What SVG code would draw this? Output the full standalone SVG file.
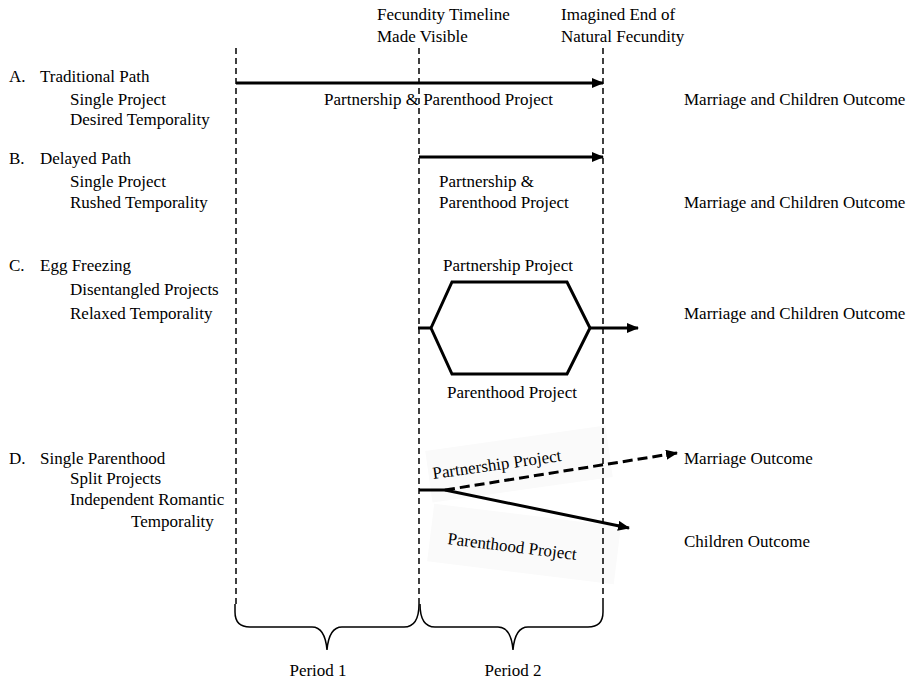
<svg xmlns="http://www.w3.org/2000/svg" width="909" height="685" viewBox="0 0 909 685">
<style>
text{font-family:"Liberation Serif","Times New Roman",serif;font-size:17px;fill:#000}
.vl{stroke:#000;stroke-width:1.5;stroke-dasharray:6,4;fill:none}
.th{stroke:#000;stroke-width:3;fill:none}
.br{stroke:#000;stroke-width:1.5;fill:none}
.mid{text-anchor:middle}
.bg{fill:#fafafa}
</style>
<defs>
<marker id="ah" markerWidth="12" markerHeight="10" refX="11" refY="5" orient="auto" markerUnits="userSpaceOnUse">
<path d="M0,0 L12,5 L0,10 Z" fill="#000"/>
</marker>
</defs>
<rect width="909" height="685" fill="#fff"/>
<g id="headers">
<text x="377" y="20">Fecundity Timeline</text>
<text x="377" y="42">Made Visible</text>
<text x="561" y="20">Imagined End of</text>
<text x="561" y="42">Natural Fecundity</text>
</g>
<g id="labels">
<text x="9" y="82">A.</text><text x="40" y="82">Traditional Path</text>
<text x="70" y="105">Single Project</text>
<text x="70" y="125">Desired Temporality</text>
<text x="9" y="164">B.</text><text x="40" y="164">Delayed Path</text>
<text x="70" y="187">Single Project</text>
<text x="70" y="208">Rushed Temporality</text>
<text x="9" y="271">C.</text><text x="40" y="271">Egg Freezing</text>
<text x="70" y="295">Disentangled Projects</text>
<text x="70" y="319">Relaxed Temporality</text>
<text x="9" y="464">D.</text><text x="40" y="464">Single Parenthood</text>
<text x="70" y="484">Split Projects</text>
<text x="70" y="505">Independent Romantic</text>
<text x="131" y="527">Temporality</text>
</g>
<g id="bgboxes">
<rect class="bg" x="428" y="438" width="182" height="52" transform="rotate(-8 519 464)"/>
<rect class="bg" x="430" y="515" width="188" height="58" transform="rotate(7 524 544)"/>
</g>
<g id="connectors">
<line class="vl" x1="236" y1="48" x2="236" y2="606"/>
<line class="vl" x1="419" y1="48" x2="419" y2="606"/>
<line class="vl" x1="603" y1="48" x2="603" y2="606"/>
<line class="th" x1="236" y1="83" x2="603" y2="83" marker-end="url(#ah)"/>
<line class="th" x1="419" y1="157" x2="603" y2="157" marker-end="url(#ah)"/>
<line class="th" x1="418" y1="328" x2="431" y2="328"/>
<path class="th" d="M431,328 L452,282 L567,282 L590,328 L567,374 L452,374 Z" stroke-linejoin="miter"/>
<line class="th" x1="590" y1="328" x2="638" y2="328" marker-end="url(#ah)"/>
<line class="th" x1="419" y1="490" x2="445" y2="490" stroke-width="4"/>
<line class="th" x1="445" y1="490" x2="677" y2="453" stroke-dasharray="10,5" marker-end="url(#ah)"/>
<line class="th" x1="445" y1="490" x2="629" y2="528" marker-end="url(#ah)"/>
</g>
<g id="texts">
<text x="324" y="105">Partnership &amp; Parenthood Project</text>
<text x="684" y="105">Marriage and Children Outcome</text>
<text x="439" y="187">Partnership &amp;</text>
<text x="439" y="208">Parenthood Project</text>
<text x="684" y="208">Marriage and Children Outcome</text>
<text x="508" y="271" class="mid">Partnership Project</text>
<text x="512" y="398" class="mid">Parenthood Project</text>
<text x="684" y="319">Marriage and Children Outcome</text>
<text x="497" y="470" class="mid" transform="rotate(-8 497 466)">Partnership Project</text>
<text x="512" y="552" class="mid" transform="rotate(7 512 547)">Parenthood Project</text>
<text x="684" y="464">Marriage Outcome</text>
<text x="684" y="547">Children Outcome</text>
</g>
<g id="braces">
<path class="br" d="M235,604 L235,612 Q235,627 250,627 L312,627 Q325,627 327,650 Q329,627 342,627 L404,627 Q419,627 419,604"/>
<path class="br" d="M420,604 Q420,627 435,627 L498,627 Q511,627 513,650 Q515,627 528,627 L588,627 Q603,627 603,612 L603,604"/>
<text x="318" y="676" class="mid">Period 1</text>
<text x="513" y="676" class="mid">Period 2</text>
</g>
</svg>
